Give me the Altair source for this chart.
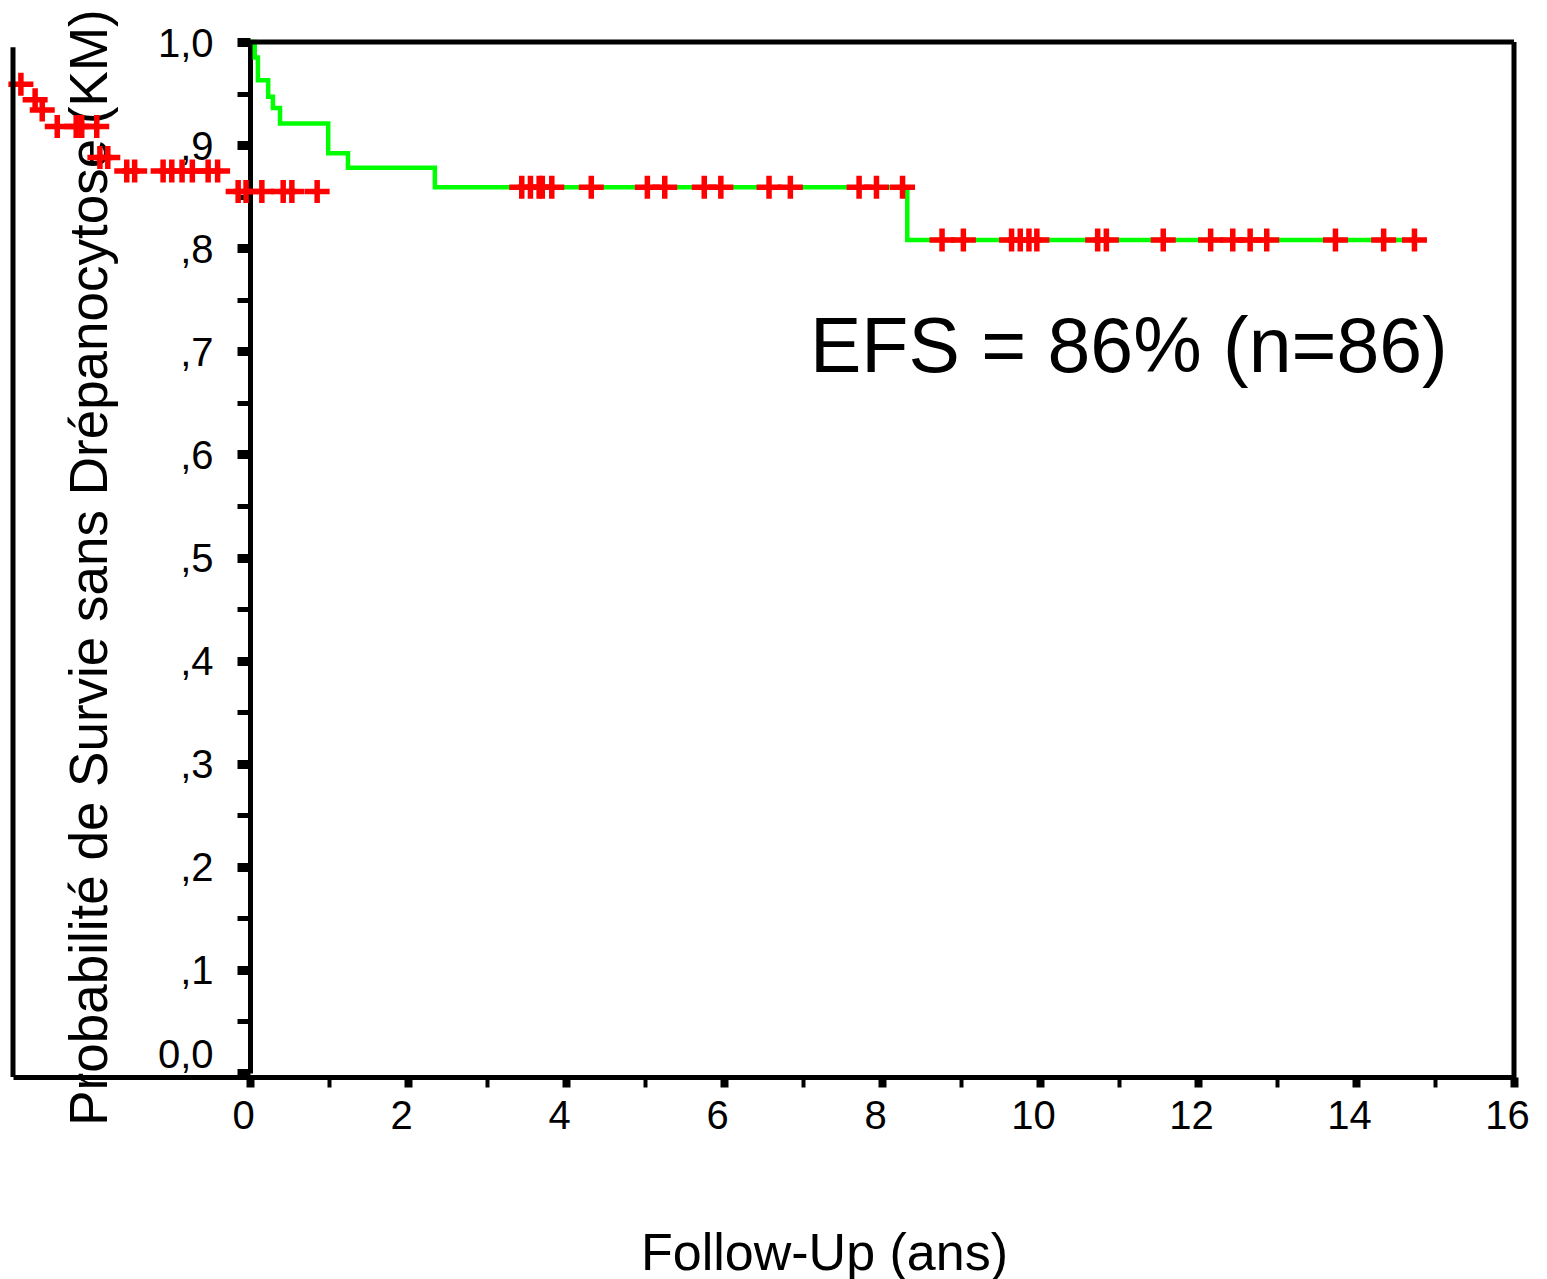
import json
import altair as alt
import pandas as pd

FONT = "Liberation Sans"

# Kaplan-Meier step curve (time in years, survival probability)
KM_TIME = [0.0, 0.06, 0.10, 0.23, 0.29, 0.38, 0.99, 1.24, 2.34, 8.32, 14.74]
KM_SURV = [1.0, 0.985, 0.963, 0.947, 0.936, 0.921, 0.892, 0.878, 0.859, 0.808, 0.808]

# Censored observations on the curve
CENSOR_TIME = [3.44, 3.55, 3.66, 3.70, 3.82, 4.32, 5.03, 5.25, 5.75, 5.96, 6.57, 6.84, 7.71, 7.93, 8.26,
               8.76, 9.03, 9.64, 9.75, 9.86, 9.96, 10.73, 10.84, 11.56, 12.16, 12.44, 12.66, 12.87,
               13.74, 14.35, 14.74]
CENSOR_SURV = [0.859, 0.859, 0.859, 0.859, 0.859, 0.859, 0.859, 0.859, 0.859, 0.859, 0.859, 0.859,
               0.859, 0.859, 0.859,
               0.808, 0.808, 0.808, 0.808, 0.808, 0.808, 0.808, 0.808, 0.808, 0.808, 0.808, 0.808,
               0.808, 0.808, 0.808, 0.808]

# Misaligned copy of censor marks at the left of the figure
OVERLAY_TIME = [-2.90, -2.72, -2.63, -2.44, -2.20, -2.13, -1.94, -1.90, -1.80, -1.56, -1.46,
                -1.10, -0.99, -0.86, -0.73, -0.53, -0.41, -0.15, -0.05, 0.15, 0.42, 0.53, 0.85]
OVERLAY_SURV = [0.959, 0.944, 0.934, 0.918, 0.918, 0.918, 0.918, 0.888, 0.888, 0.875, 0.875,
                0.875, 0.875, 0.875, 0.875, 0.875, 0.875, 0.855, 0.855, 0.855, 0.855, 0.855, 0.855]

X_TICK_VALUES = [0, 1, 2, 3, 4, 5, 6, 7, 8, 9, 10, 11, 12, 13, 14, 15, 16]
X_TICK_LABELS = ["0", "2", "4", "6", "8", "10", "12", "14", "16"]
Y_TICK_VALUES = [0.0, 0.05, 0.1, 0.15, 0.2, 0.25, 0.3, 0.35, 0.4, 0.45, 0.5, 0.55, 0.6, 0.65,
                 0.7, 0.75, 0.8, 0.85, 0.9, 0.95, 1.0]
Y_TICK_LABELS = ["0,0", ",1", ",2", ",3", ",4", ",5", ",6", ",7", ",8", ",9", "1,0"]

Y_TITLE = "Probabilité de Survie sans Drépanocytose (KM)"
X_TITLE = "Follow-Up (ans)"
ANNOTATION = ["EFS = 86% (n=86)"]

PLUS_PATH = "M-1,0H1M0,-0.92V0.92"

km = pd.DataFrame({"t": KM_TIME, "s": KM_SURV})
cens = pd.DataFrame({"t": CENSOR_TIME, "s": CENSOR_SURV})
over = pd.DataFrame({"t": OVERLAY_TIME, "s": OVERLAY_SURV})
one = pd.DataFrame({"k": [0]})
ann = pd.DataFrame({"label": ANNOTATION})

x_label_expr = f"datum.value % 2 == 0 ? {json.dumps(X_TICK_LABELS)}[datum.value / 2] : ''"
y_label_expr = (f"round(datum.value * 20) % 2 == 0 ? "
                f"{json.dumps(Y_TICK_LABELS)}[round(datum.value * 10)] : ''")

x_axis = alt.Axis(
    values=X_TICK_VALUES, labelExpr=x_label_expr, grid=False,
    domainColor="black", domainWidth=5, offset=4,
    tickColor="black", tickSize=10,
    tickWidth={"condition": {"test": "datum.value % 2 == 0", "value": 8}, "value": 4},
    labelFont=FONT, labelFontSize=40, labelColor="black", labelPadding=41.5,
    labelBaseline="alphabetic", labelOffset=-7, labelOverlap=False, labelFlush=False,
    labelBound=False,
    title=X_TITLE, titleFont=FONT, titleFontSize=52, titleFontWeight="normal",
    titleColor="black", titleX=811, titleY=192, titleAlign="center",
    titleBaseline="alphabetic", titleAnchor="start",
)

y_axis = alt.Axis(
    values=Y_TICK_VALUES, labelExpr=y_label_expr, grid=False,
    domainColor="black", domainWidth=5, offset=-237,
    tickColor="black", tickSize=13,
    tickWidth={"condition": {"test": "round(datum.value * 20) % 2 == 0", "value": 9}, "value": 5},
    labelFont=FONT, labelFontSize=40, labelColor="black", labelPadding=24,
    labelAlign="right", labelBaseline="alphabetic",
    labelOffset={"condition": {"test": "datum.value == 0", "value": -6}, "value": 14},
    labelOverlap=False, labelFlush=False, labelBound=False,
    title=Y_TITLE, titleFont=FONT, titleFontSize=53, titleFontWeight="normal",
    titleColor="black", titleAngle=270, titleX=-144, titleY=525,
    titleAlign="center", titleBaseline="alphabetic", titleAnchor="start",
)

x_scale = alt.Scale(domain=[-3.0, 16.0], nice=False, zero=False)
y_scale = alt.Scale(domain=[0.0, 1.0], nice=False, zero=False)

curve = alt.Chart(km).mark_line(
    interpolate="step-after", color="#00FF00", strokeWidth=4.5, clip=False
).encode(
    x=alt.X("t:Q", scale=x_scale, axis=x_axis, title=X_TITLE),
    y=alt.Y("s:Q", scale=y_scale, axis=y_axis, title=Y_TITLE),
)

plus_kwargs = dict(shape=PLUS_PATH, size=625, filled=False, stroke="#FF0000",
                   strokeWidth=5.5, opacity=1, clip=False)

censor = alt.Chart(cens).mark_point(**plus_kwargs).encode(
    x=alt.X("t:Q", title=X_TITLE), y=alt.Y("s:Q", title=Y_TITLE)
)
overlay = alt.Chart(over).mark_point(**plus_kwargs).encode(
    x=alt.X("t:Q", title=X_TITLE), y=alt.Y("s:Q", title=Y_TITLE)
)

frame_top = alt.Chart(one).mark_rule(color="black", strokeWidth=5, clip=False).encode(
    x=alt.datum(0), x2=alt.datum(16), y=alt.datum(1.0)
)
frame_right = alt.Chart(one).mark_rule(color="black", strokeWidth=5, clip=False).encode(
    x=alt.datum(16), y=alt.datum(1.0), y2=alt.datum(-0.007)
)
frame_left = alt.Chart(one).mark_rule(color="black", strokeWidth=5, clip=False).encode(
    x=alt.datum(-3.0), y=alt.datum(0.995), y2=alt.datum(-0.004)
)

annotation = alt.Chart(ann).mark_text(
    font=FONT, fontSize=77, color="black", align="left", baseline="alphabetic"
).encode(
    x=alt.value(797), y=alt.value(330), text="label:N"
)

chart = alt.layer(
    curve, censor, overlay, frame_top, frame_right, frame_left, annotation
).properties(
    width=1501, height=1031,
    autosize=alt.AutoSizeParams(type="none"),
    padding={"left": 13, "top": 42, "right": 33, "bottom": 206},
    background="white",
).configure_view(stroke=None)

chart.save("out.html", embed_options={"renderer": "svg", "actions": False})
